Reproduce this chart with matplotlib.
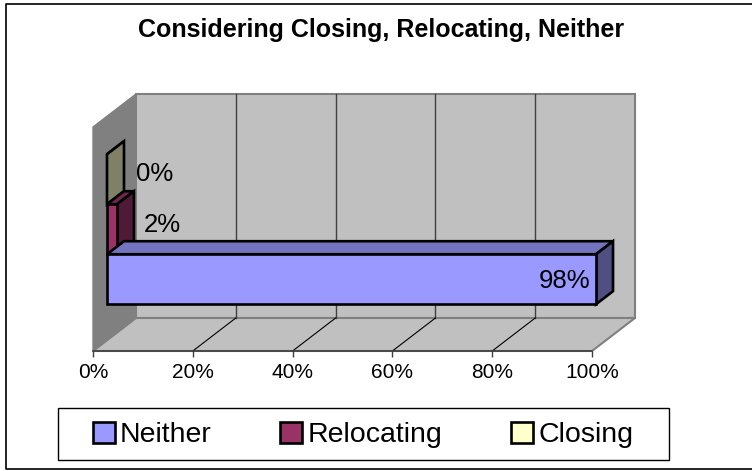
# 3D-look horizontal bar chart, the depth is drawn by hand on a flat axes
import matplotlib
matplotlib.use('Agg')
import matplotlib.pyplot as plt
from matplotlib.patches import Polygon, Patch, Rectangle
from matplotlib.lines import Line2D

categories = ['Neither', 'Relocating', 'Closing']
values = [98, 2, 0]
value_labels = ['98%', '2%', '0%']
colors = ['#9999FF', '#993366', '#FFFFCC']
side_colors = ['#4F4F84', '#4F1A35', '#808066']
top_colors = ['#7373BF', '#732650', '#808066']
ticks = [0, 20, 40, 60, 80, 100]
tick_labels = ['0%', '20%', '40%', '60%', '80%', '100%']
title = 'Considering Closing, Relocating, Neither'

W, H = 752, 471
plt.rcParams['font.family'] = ['Liberation Sans', 'DejaVu Sans']

fig = plt.figure(figsize=(W / 100, H / 100), dpi=100)
fig.patch.set_facecolor('white')

# outer frame, the right side is cut off in the original
frame_x = [1, 5.5 / W, 5.5 / W, 1]
frame_y = [1 - 4 / H, 1 - 4 / H, 1 - 469 / H, 1 - 469 / H]
fig.add_artist(Line2D(frame_x, frame_y, transform=fig.transFigure, color='black', linewidth=1.2))

# front plane of the plot box
left, right, top, bottom = 93, 592, 127, 351
ax = fig.add_axes([left / W, 1 - bottom / H, (right - left) / W, (bottom - top) / H])
ax.set_xlim(0, 100)
ax.set_ylim(0, 1)
ax.patch.set_visible(False)
ax.set_yticks([])
ax.set_xticks(ticks)
ax.set_xticklabels(tick_labels, fontsize=15)
ax.tick_params(axis='x', length=4, width=1, color='#404040', pad=5)
for s in ['top', 'left', 'right']:
    ax.spines[s].set_visible(False)
ax.spines['bottom'].set_color('#404040')
ax.spines['bottom'].set_linewidth(1.2)

# depth of the box in data units
dx = 43 / (right - left) * 100
dy = 33 / (bottom - top)


def poly(pts, fc, ec, lw, z):
    ax.add_patch(Polygon(pts, closed=True, facecolor=fc, edgecolor=ec, linewidth=lw,
                         zorder=z, clip_on=False, joinstyle='miter'))


# walls
poly([(dx, dy), (100 + dx, dy), (100 + dx, 1 + dy), (dx, 1 + dy)], '#C0C0C0', '#808080', 1.5, 1)
poly([(0, 0), (100, 0), (100 + dx, dy), (dx, dy)], '#C0C0C0', '#808080', 1.5, 1)
poly([(0, 0), (dx, dy), (dx, 1 + dy), (0, 1)], '#808080', '#808080', 1.0, 1.1)
for t in ticks[1:-1]:
    ax.plot([t + dx, t + dx], [dy, 1 + dy], color='#404040', lw=1, zorder=1.5, clip_on=False)
    ax.plot([t, t + dx], [0, dy], color='black', lw=0.8, zorder=1.5, clip_on=False)

# bars, sitting in the middle of the depth
bar_h = 50 / (bottom - top)
near = 14 / 43
far = 31 / 43
x0 = near * dx
y0 = 0.5 + near * dy - 1.5 * bar_h - 1 / (bottom - top)
bar_dx = (far - near) * dx
bar_dy = (far - near) * dy
for i in [2, 1, 0]:
    xa = x0
    xb = x0 + values[i]
    ya = y0 + i * bar_h
    yb = ya + bar_h
    z = 3 + (2 - i) * 0.1
    poly([(xa, yb), (xb, yb), (xb + bar_dx, yb + bar_dy), (xa + bar_dx, yb + bar_dy)],
         top_colors[i], 'black', 1.9, z)
    poly([(xb, ya), (xb + bar_dx, ya + bar_dy), (xb + bar_dx, yb + bar_dy), (xb, yb)],
         side_colors[i], 'black', 1.9, z)
    if values[i] > 0:
        poly([(xa, ya), (xb, ya), (xb, yb), (xa, yb)], colors[i], 'black', 1.9, z)

# value labels
ax.text(99.7, y0 + 0.5 * bar_h - 0.009, value_labels[0], ha='right', va='center', fontsize=18.5, zorder=5)
ax.text(x0 + values[1] + bar_dx + 1.9, y0 + 1.5 * bar_h + 0.02, value_labels[1], ha='left', va='center', fontsize=18.5, zorder=5)
ax.text(x0 + values[2] + bar_dx + 2.4, y0 + 2.5 * bar_h + 0.024, value_labels[2], ha='left', va='center', fontsize=18.5, zorder=5)

fig.text(381.5 / W, 1 - 30 / H, title, ha='center', va='center', fontsize=18, fontweight='bold')

# legend box is drawn apart so it can have its own padding
fig.add_artist(Rectangle((57.5 / W, 1 - 460 / H), 611 / W, 52 / H, transform=fig.transFigure,
                         facecolor='white', edgecolor='black', linewidth=1.0))
handles = [Patch(facecolor=c, edgecolor='black', linewidth=1.9) for c in colors]
leg = fig.legend(handles, categories, ncol=3, fontsize=20.5, loc='center',
                 bbox_to_anchor=(363 / W, 1 - 435 / H), frameon=False,
                 handlelength=0.77, handleheight=0.8, handletextpad=0.18,
                 columnspacing=2.42, borderpad=0, borderaxespad=0)

fig.savefig('out.png', dpi=100)
